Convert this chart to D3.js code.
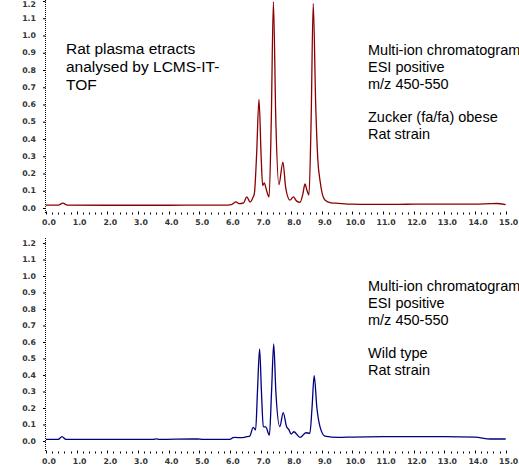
<!DOCTYPE html>
<html>
<head>
<meta charset="utf-8">
<script src="https://cdn.jsdelivr.net/npm/d3@7"></script>
<style>
  html, body { margin: 0; padding: 0; background: #fff; }
  svg { display: block; }
</style>
</head>
<body>
<svg id="chart" width="519" height="468"></svg>
<script>
// ---- data (retention time in minutes, relative intensity) ----
const topTime = [0.0, 0.4, 0.55, 0.7, 2.0, 3.0, 4.0, 5.0, 5.8, 6.05, 6.2, 6.3, 6.45, 6.55, 6.66, 6.75, 6.8, 6.87, 6.95, 7.02, 7.07, 7.12, 7.2, 7.28, 7.35, 7.42, 7.5, 7.6, 7.73, 7.82, 7.96, 8.07, 8.18, 8.29, 8.38, 8.45, 8.52, 8.58, 8.65, 8.72, 8.8, 8.87, 8.94, 9.1, 9.3, 9.53, 10.0, 11.0, 12.0, 13.0, 14.0, 14.5, 14.7, 15.0];
const topSignal = [0.017, 0.017, 0.028, 0.017, 0.016, 0.016, 0.016, 0.017, 0.017, 0.02, 0.035, 0.025, 0.03, 0.065, 0.035, 0.06, 0.085, 0.3, 0.63, 0.3, 0.13, 0.145, 0.1, 0.064, 0.5, 1.195, 0.5, 0.135, 0.266, 0.12, 0.046, 0.064, 0.04, 0.033, 0.08, 0.139, 0.1, 0.075, 0.5, 1.185, 0.6, 0.28, 0.16, 0.046, 0.03, 0.027, 0.022, 0.021, 0.022, 0.022, 0.022, 0.025, 0.026, 0.02];

const bottomTime = [0.0, 0.4, 0.52, 0.65, 3.5, 3.6, 3.7, 4.8, 4.95, 5.1, 6.0, 6.1, 6.17, 6.35, 6.55, 6.65, 6.76, 6.84, 6.9, 6.97, 7.03, 7.09, 7.17, 7.29, 7.36, 7.43, 7.5, 7.63, 7.74, 7.85, 7.92, 8.0, 8.09, 8.29, 8.48, 8.61, 8.68, 8.75, 8.84, 8.94, 9.1, 9.54, 10.0, 11.0, 12.0, 13.0, 14.0, 14.5, 15.0];
const bottomSignal = [0.01, 0.01, 0.026, 0.01, 0.01, 0.013, 0.01, 0.012, 0.012, 0.01, 0.01, 0.02, 0.022, 0.02, 0.026, 0.03, 0.083, 0.067, 0.3, 0.558, 0.3, 0.087, 0.085, 0.036, 0.3, 0.588, 0.3, 0.087, 0.172, 0.087, 0.07, 0.042, 0.056, 0.022, 0.05, 0.047, 0.2, 0.396, 0.2, 0.087, 0.03, 0.022, 0.024, 0.026, 0.027, 0.027, 0.024, 0.012, 0.012];

const xTickLabels = ["0.0","1.0","2.0","3.0","4.0","5.0","6.0","7.0","8.0","9.0","10.0","11.0","12.0","13.0","14.0","15.0"];
const yTickLabels = ["0.0","0.1","0.2","0.3","0.4","0.5","0.6","0.7","0.8","0.9","1.0","1.1","1.2"];

const topNotesLeft = ["Rat plasma etracts", "analysed by LCMS-IT-", "TOF"];
const topNotesRight = ["Multi-ion chromatogram", "ESI positive", "m/z 450-550", "", "Zucker (fa/fa) obese", "Rat strain"];
const bottomNotesRight = ["Multi-ion chromatogram", "ESI positive", "m/z 450-550", "", "Wild type", "Rat strain"];

// ---- drawing ----
const svg = d3.select("#chart");
const x = d3.scaleLinear().domain([0, 15]).range([46, 505.7]);

const panels = [
  { time: topTime, signal: topSignal, color: "#8b0000", y0: 208, y1: 1, axisY: 213, yTop: 0,
    left: topNotesLeft, right: topNotesRight, rightY: 50, leftY: 49 },
  { time: bottomTime, signal: bottomSignal, color: "#000080", y0: 441, y1: 243, axisY: 452, yTop: 238,
    left: [], right: bottomNotesRight, rightY: 286, leftY: 0 }
];

const tickFont = "DejaVu Sans, Verdana, sans-serif";
const textFont = "Liberation Sans, Arial, sans-serif";

panels.forEach(p => {
  const y = d3.scaleLinear().domain([0, 1.2]).range([p.y0, p.y1]);
  const g = svg.append("g");

  // y axis dotted line
  g.append("line")
    .attr("x1", 45.5).attr("x2", 45.5)
    .attr("y1", p.yTop).attr("y2", p.axisY)
    .attr("stroke", "#000").attr("stroke-width", 1)
    .attr("stroke-dasharray", "1,1");

  // y ticks
  const yt = g.selectAll(".yt").data(yTickLabels).enter().append("g")
    .attr("transform", d => `translate(0,${y(+d)})`);
  yt.append("line").attr("x1", 43).attr("x2", 45.5).attr("y1", 0.5).attr("y2", 0.5)
    .attr("stroke", "#000").attr("stroke-width", 1);
  yt.append("text").attr("x", 36).attr("y", d => Math.max(0, 4 - y(+d))).attr("dy", "0.35em")
    .attr("text-anchor", "end")
    .attr("font-family", tickFont).attr("font-size", "7.8px").attr("font-weight", "bold")
    .attr("fill", "#333").text(d => d);

  // x ticks: minor every 0.2, major every 1
  const minor = d3.range(0, 75.01, 1).map(i => i / 5);
  g.selectAll(".xt").data(minor).enter().append("line")
    .attr("x1", d => Math.round(x(d)) + 0.5).attr("x2", d => Math.round(x(d)) + 0.5)
    .attr("y1", d => (Math.abs(d - Math.round(d)) < 1e-6 ? p.axisY - 1.5 : p.axisY - 0.5))
    .attr("y2", p.axisY + 1.5)
    .attr("stroke", "#000").attr("stroke-width", 1);

  g.selectAll(".xl").data(xTickLabels).enter().append("text")
    .attr("x", d => x(+d) + 3).attr("y", p.axisY + 9).attr("dy", "0.35em")
    .attr("text-anchor", "middle")
    .attr("font-family", tickFont).attr("font-size", "7.8px").attr("font-weight", "bold")
    .attr("fill", "#333").text(d => d);

  // chromatogram trace
  const pts = p.time.map((t, i) => [t, p.signal[i]]);
  const line = d3.line().x(d => x(d[0])).y(d => y(d[1])).curve(d3.curveMonotoneX);
  g.append("path").datum(pts).attr("d", line)
    .attr("fill", "none").attr("stroke", p.color).attr("stroke-width", 1.3)
    .attr("stroke-linejoin", "round");

  // annotations
  g.selectAll(".nl").data(p.left).enter().append("text")
    .attr("x", 66).attr("y", (d, i) => p.leftY + i * 17.7).attr("dy", "0.35em")
    .attr("font-family", textFont).attr("font-size", "15.5px").attr("fill", "#000")
    .text(d => d);
  g.selectAll(".nr").data(p.right).enter().append("text")
    .attr("x", 368).attr("y", (d, i) => p.rightY + i * 16.8).attr("dy", "0.35em")
    .attr("font-family", textFont).attr("font-size", "14.5px").attr("fill", "#000")
    .text(d => d);
});
</script>
</body>
</html>
